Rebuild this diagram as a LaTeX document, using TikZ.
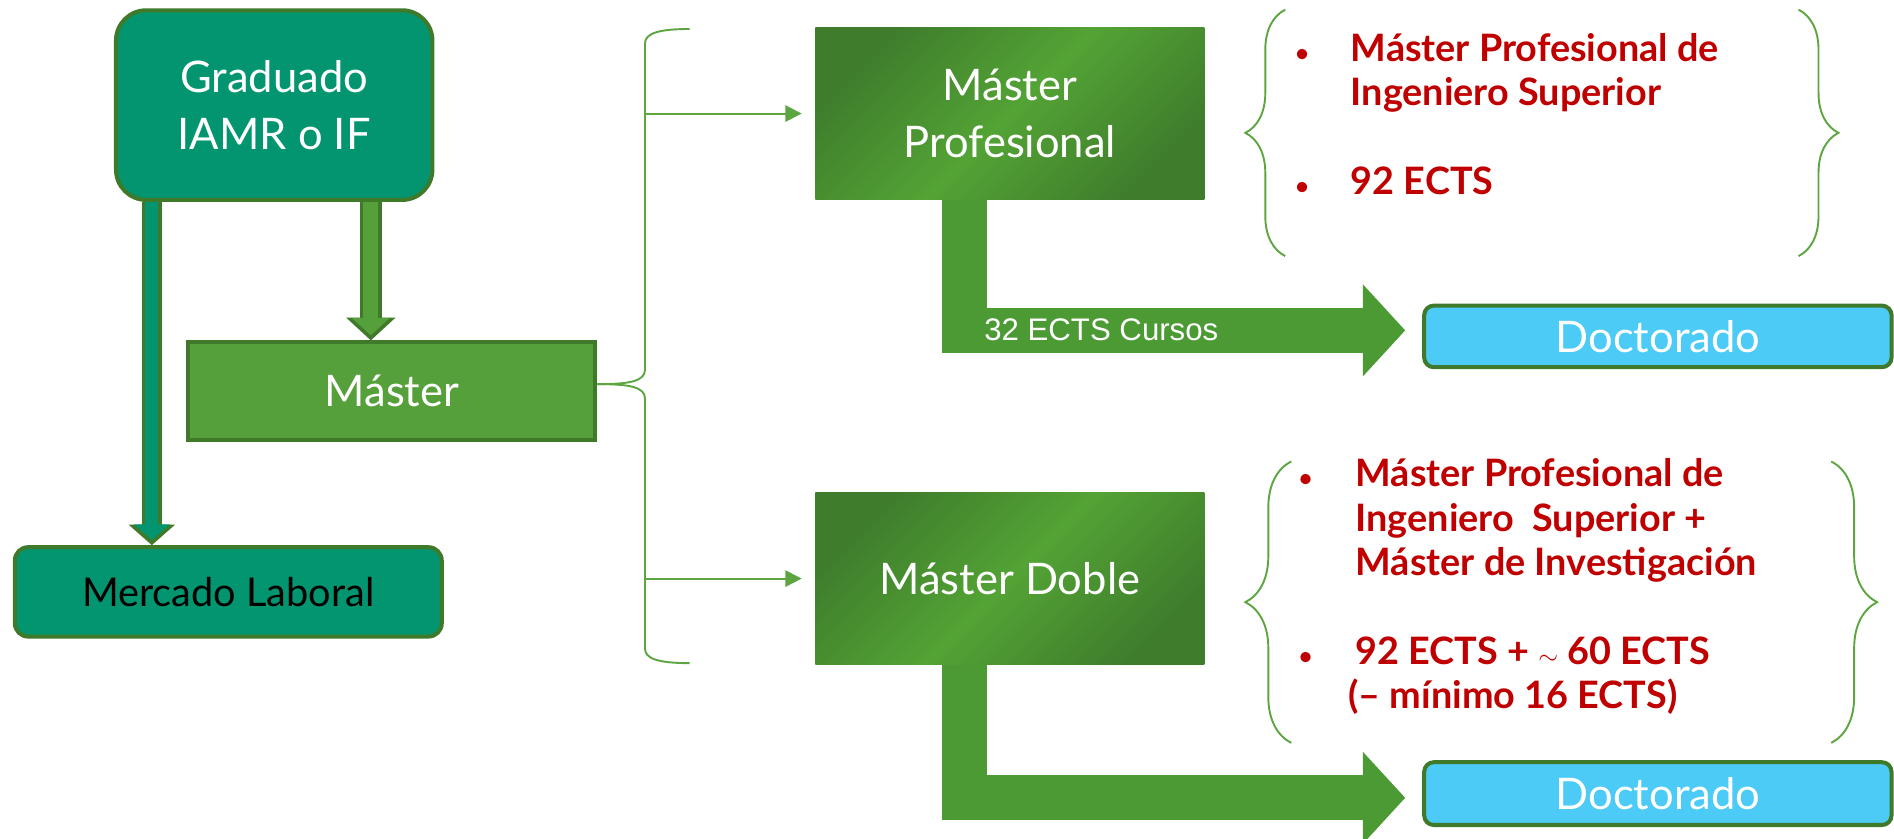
\documentclass[tikz,border=0pt]{standalone}
\usepackage{fontspec}
\setmainfont{Lato}
\newfontfamily\arialfont{Liberation Sans}
\usetikzlibrary{arrows.meta,decorations.pathreplacing,calc}
\definecolor{gradteal}{HTML}{03956F}
\definecolor{edgegreen}{HTML}{3F7A2B}
\definecolor{mastergreen}{HTML}{55A03A}
\definecolor{darkgrad}{HTML}{3F7D2C}
\definecolor{lightgrad}{HTML}{53A335}
\definecolor{bentgreen}{HTML}{4C9A34}
\definecolor{docblue}{HTML}{4BCBF6}
\definecolor{infored}{HTML}{C00000}
\definecolor{bracegreen}{HTML}{5DA541}
\newcommand\infobullet{{\fontsize{11}{11}\selectfont•}}

\begin{document}
\begin{tikzpicture}[x=0.02cm,y=-0.02cm,
    boxtext/.style={text=white,font=\fontsize{20.5}{26.7}\selectfont,align=center,inner sep=0pt},
    tealbox/.style={boxtext,draw=edgegreen,line width=1.9pt,fill=gradteal},
    greenbox/.style={boxtext,draw=edgegreen,line width=1.9pt,fill=mastergreen},
    gradbox/.style={boxtext,top color=darkgrad,bottom color=darkgrad,middle color=lightgrad,shading angle=45,minimum width=6.44cm,minimum height=2.86cm},
    docbox/.style={boxtext,draw=edgegreen,line width=1.9pt,fill=docblue,rounded corners=0.16cm,minimum width=7.74cm},
    outerarrow/.style={edgegreen,line width=#1},
    innerarrow/.style={#1,shorten >=0.085cm},
    linkarrow/.style={bracegreen,line width=0.9pt,-{Triangle[width=0.27cm,length=0.27cm]},shorten >=0.22cm},
    bentarrow/.style={bentgreen,line width=0.75cm,-{Triangle[width=1.48cm,length=0.7cm]},shorten >=0.28cm},
    bracket/.style={bracegreen,line width=0.9pt},
    infobrace/.style={bracket,decorate,decoration={brace,amplitude=#1}},
    infotext/.style={text=infored,font=\bfseries\fontsize{17.8}{20.9}\selectfont,inner sep=0pt,anchor=base west}]
  \useasboundingbox (0,0) rectangle (1568,694);

  \node[tealbox,rounded corners=0.5cm,minimum width=5.24cm,minimum height=3.14cm] (grad) at (227,87) {Graduado\\IAMR o IF};
  \node[greenbox,minimum width=6.74cm,minimum height=1.62cm] (master) at (324.5,324) {Máster};
  \node[tealbox,text=black,rounded corners=0.22cm,minimum width=7.07cm,minimum height=1.48cm,font=\fontsize{18.7}{22}\selectfont] (mercado) at (189,490) {Mercado Laboral};
  \node[gradbox] (mprof) at (836,94) {Máster\\Profesional};
  \node[gradbox] (mdoble) at (836,479) {Máster Doble};
  \node[docbox,minimum height=1.02cm] (doc1) at (1372.5,278.5) {Doctorado};
  \node[docbox,minimum height=1.04cm] (doc2) at (1372.5,657) {Doctorado};

  \coordinate (gm) at (307,0);
  \coordinate (gl) at (125.7,0);
  \coordinate (bx) at (534,0);
  \coordinate (ps) at (798.5,0);

  \draw[outerarrow=0.37cm,-{Triangle[width=0.8cm,length=0.38cm]}] (grad.south -| gm) -- (master.north -| gm);
  \draw[innerarrow=mastergreen,line width=0.25cm,-{Triangle[width=0.62cm,length=0.29cm]}] (grad.south -| gm) -- (master.north -| gm);
  \draw[outerarrow=0.33cm,-{Triangle[width=0.75cm,length=0.34cm]}] (grad.south -| gl) -- (mercado.north -| gl);
  \draw[innerarrow=gradteal,line width=0.21cm,-{Triangle[width=0.58cm,length=0.26cm]}] (grad.south -| gl) -- (mercado.north -| gl);

  \draw[bracket] ([yshift=0.12cm]master.east) .. controls (520,318) and (534,316) .. (534,306) -- (534,36) .. controls (534,28) and (544,24) .. (571,24);
  \draw[bracket] ([yshift=0.12cm]master.east) .. controls (520,318) and (534,320) .. (534,330) -- (534,537) .. controls (534,545) and (544,549) .. (571,549);
  \draw[linkarrow] (mprof.west -| bx) -- (mprof.west);
  \draw[linkarrow] (mdoble.west -| bx) -- (mdoble.west);

  \draw[bentarrow] (mprof.south -| ps) |- ([yshift=0.1cm]doc1.west);
  \draw[bentarrow] (mdoble.south -| ps) |- ([yshift=-0.07cm]doc2.west);
  \node[text=white,font=\arialfont\fontsize{14.7}{17}\selectfont,anchor=base west,inner sep=0pt] (ects) at (814.5,281.5) {32 ECTS Cursos};

  \node[infotext] (info1) at (1072,51) {\begin{tabular}[t]{@{}p{0.92cm}@{}l@{}}\infobullet&Máster Profesional de\\&Ingeniero Superior\\&\\\infobullet&92 ECTS\end{tabular}};
  \node[infotext] (info2) at (1075,403) {\begin{tabular}[t]{@{}p{0.94cm}@{}l@{}}\infobullet&Máster Profesional de\\&Ingeniero~ Superior +\\&Máster de Investigación\\&\\\infobullet&92 ECTS + {\fontsize{13}{13}\selectfont$\sim$} 60 ECTS\\&\hspace*{-0.12cm}(– mínimo 16 ECTS)\end{tabular}};
  \draw[infobrace=0.66cm] (1064,212) -- (1064,8);
  \draw[infobrace=0.66cm] (1489,8) -- (1489,212);
  \draw[infobrace=0.76cm] (1069,615) -- (1069,382);
  \draw[infobrace=0.76cm] (1516,382) -- (1516,615);
\end{tikzpicture}
\end{document}
